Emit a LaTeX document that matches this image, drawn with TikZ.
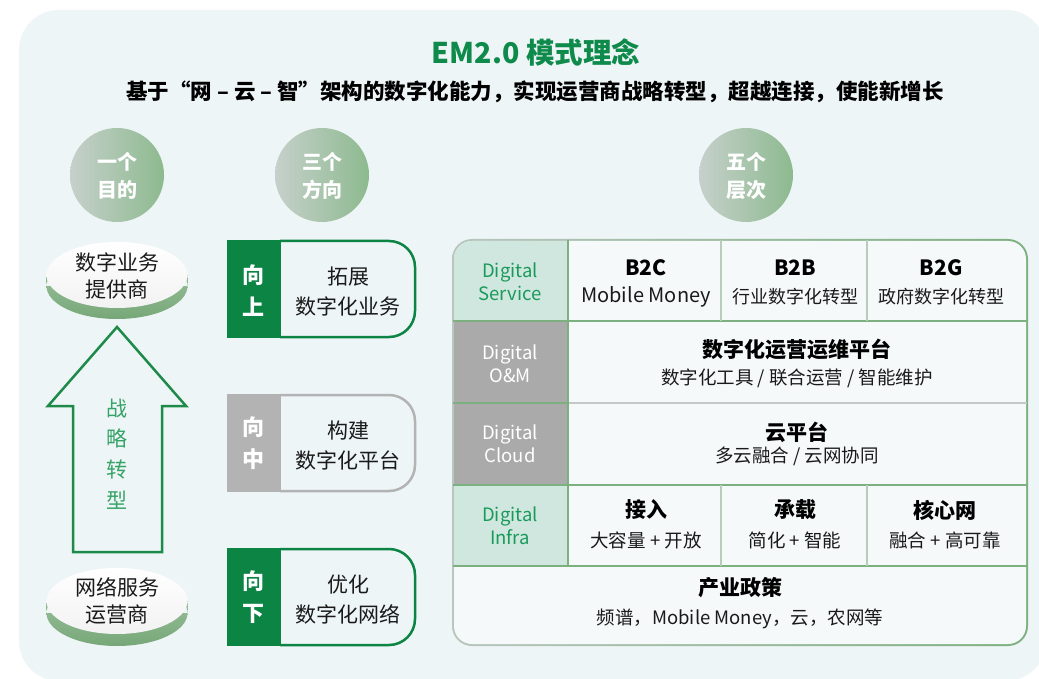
\documentclass[tikz,border=0pt]{standalone}
\usepackage{fontspec}
\setmainfont{Noto Sans CJK SC}
\definecolor{bgc}{HTML}{EEF5F7}
\definecolor{tgreen}{HTML}{0E8A4B}
\definecolor{dgreen}{HTML}{0B8444}
\definecolor{lgreen}{HTML}{7DB07F}
\definecolor{agreen}{HTML}{1E8A4A}
\definecolor{atext}{HTML}{35A366}
\definecolor{circL}{HTML}{C6D0CB}
\definecolor{circR}{HTML}{8DBA8F}
\definecolor{grayc}{HTML}{B3B3B3}
\definecolor{tealc}{HTML}{D0E7DF}
\definecolor{tealt}{HTML}{1A9A5A}
\definecolor{txt}{HTML}{1A1A1A}
\definecolor{borderL}{HTML}{B8C6BE}
\definecolor{graydiv}{HTML}{C4C9C6}
\definecolor{coldiv}{HTML}{B7CDB9}
\tikzset{
  circtext/.style={text=white, font=\bfseries\fontsize{20}{28}\selectfont, align=center, inner sep=0},
  disktext/.style={text=txt, font=\fontsize{21}{27}\selectfont, align=center, inner sep=0},
  dirtag/.style={text=white, font=\bfseries\fontsize{22}{32}\selectfont, align=center, inner sep=0},
  dirtext/.style={text=txt, font=\fontsize{21}{30}\selectfont, align=center, inner sep=0},
  laytag/.style={font=\fontsize{18.5}{23}\selectfont, align=center, inner sep=0},
  celltitle/.style={text=black, font=\bfseries\fontsize{21}{24}\selectfont, inner sep=0},
  cellsub/.style={text=txt, font=\fontsize{18.5}{22}\selectfont, inner sep=0},
  cellsubs/.style={text=txt, font=\fontsize{18}{22}\selectfont, inner sep=0},
  tline/.style={draw=lgreen, line width=2pt},
}
\begin{document}
\begin{tikzpicture}[x=1pt,y=-1pt]
\useasboundingbox (0,0) rectangle (1039,679);
\fill[white] (0,0) rectangle (1039,679);
\fill[bgc, rounded corners=40pt] (19,10) rectangle (1046,681);

% title
\node[text=tgreen, font=\bfseries\fontsize{28.5}{32}\selectfont, inner sep=0] (title) at (536,52) {EM2.0 模式理念};
\node[text=black, font=\bfseries\fontsize{21.5}{24}\selectfont, inner sep=0] (subtitle) at (535,92) {基于“网 – 云 – 智”架构的数字化能力，实现运营商战略转型，超越连接，使能新增长};

% circles
\shade[left color=circL, right color=circR] (117,175) circle (47);
\node[circtext] (c1) at (117,176) {一个\\目的};
\shade[left color=circL, right color=circR] (322,175) circle (47);
\node[circtext] (c2) at (322,176) {三个\\方向};
\shade[left color=circL, right color=circR] (746,175) circle (47);
\node[circtext] (c3) at (746,176) {五个\\层次};

% disks
\shade[top color=lgreen!70, bottom color=lgreen!95!black] (46.5,275) rectangle (187.5,286) (117,286) ellipse [x radius=70.5, y radius=33];
\shade[top color=white, bottom color=white!90!gray] (117,275) ellipse [x radius=70.5, y radius=33];
\node[disktext] (d1) at (117,276) {数字业务\\提供商};
\shade[top color=lgreen!70, bottom color=lgreen!95!black] (46.5,601) rectangle (187.5,613) (117,613) ellipse [x radius=70.5, y radius=33];
\shade[top color=white, bottom color=white!90!gray] (117,601) ellipse [x radius=70.5, y radius=33];
\node[disktext] (d2) at (117,601) {网络服务\\运营商};

% arrow
\draw[agreen, line width=2.5pt, line join=miter] (117,327) -- (186,406) -- (162,406) -- (162,552) -- (73,552) -- (73,406) -- (48,406) -- cycle;
\node[text=atext, font=\fontsize{21}{30.7}\selectfont, align=center, inner sep=0] (strat) at (117,454) {战\\略\\转\\型};

% direction boxes
\fill[dgreen] (227,240) rectangle (281,338);
\draw[dgreen, line width=2.5pt, rounded corners=26pt] (280,241) -- (415,241) -- (415,337) -- (280,337);
\node[dirtag] (u1) at (253,291) {向\\上};
\node[dirtext] (u2) at (348,292) {拓展\\数字化业务};

\fill[grayc] (227,394) rectangle (281,492);
\draw[grayc, line width=2.5pt, rounded corners=26pt] (280,395) -- (415,395) -- (415,491) -- (280,491);
\node[dirtag] (m1) at (253,443) {向\\中};
\node[dirtext] (m2) at (348,446) {构建\\数字化平台};

\fill[dgreen] (227,548) rectangle (281,646);
\draw[dgreen, line width=2.5pt, rounded corners=26pt] (280,549) -- (415,549) -- (415,645) -- (280,645);
\node[dirtag] (l1) at (253,597) {向\\下};
\node[dirtext] (l2) at (348,600) {优化\\数字化网络};

% table
\shade[left color=borderL, right color=lgreen, rounded corners=20pt] (452,239) rectangle (1028,646);
\fill[bgc!60!white, rounded corners=18pt] (454,241) rectangle (1026,644);
\begin{scope}
\clip[rounded corners=18pt] (454,241) rectangle (1026,644);
\fill[tealc] (454,241) rectangle (568,321);
\fill[grayc!95!black] (454,321) rectangle (568,403);
\fill[grayc!95!black] (454,403) rectangle (568,485);
\fill[tealc] (454,485) rectangle (568,566);
\end{scope}
\draw[tline] (453,321) -- (1027,321);
\draw[draw=lgreen, line width=2pt] (453,403) -- (568,403);
\draw[draw=graydiv, line width=2pt] (568,403) -- (1027,403);
\draw[tline] (453,485) -- (1027,485);
\draw[tline] (453,566) -- (1027,566);
\draw[tline] (568,240) -- (568,566);
\draw[draw=coldiv, line width=2pt] (721,240) -- (721,321);
\draw[draw=coldiv, line width=2pt] (867,240) -- (867,321);
\draw[draw=coldiv, line width=2pt] (721,485) -- (721,566);
\draw[draw=coldiv, line width=2pt] (867,485) -- (867,566);

\node[laytag, text=tealt] (ls) at (510,282) {Digital\\Service};
\node[laytag, text=white] (lo) at (510,364) {Digital\\O\&M};
\node[laytag, text=white] (lc) at (510,444) {Digital\\Cloud};
\node[laytag, text=tealt] (li) at (510,526) {Digital\\Infra};

\node[celltitle] (b2c) at (646,268) {B2C};
\node[cellsubs, font=\fontsize{20}{22}\selectfont] (b2cs) at (646,297) {Mobile Money};
\node[celltitle] (b2b) at (795,268) {B2B};
\node[cellsubs] (b2bs) at (795,297) {行业数字化转型};
\node[celltitle] (b2g) at (941,268) {B2G};
\node[cellsubs] (b2gs) at (941,297) {政府数字化转型};

\node[celltitle] (om) at (797,349) {数字化运营运维平台};
\node[cellsub] (oms) at (797,378) {数字化工具 / 联合运营 / 智能维护};
\node[celltitle] (cl) at (797,432) {云平台};
\node[cellsub] (cls) at (797,456) {多云融合 / 云网协同};

\node[celltitle] (in1) at (646,510) {接入};
\node[cellsub] (in1s) at (646,540) {大容量 + 开放};
\node[celltitle] (in2) at (795,510) {承载};
\node[cellsub] (in2s) at (795,540) {简化 + 智能};
\node[celltitle] (in3) at (945,510) {核心网};
\node[cellsub] (in3s) at (945,540) {融合 + 高可靠};

\node[celltitle] (pol) at (740,588) {产业政策};
\node[cellsub] (pols) at (740,619) {频谱，Mobile Money，云，农网等};
\end{tikzpicture}
\end{document}
